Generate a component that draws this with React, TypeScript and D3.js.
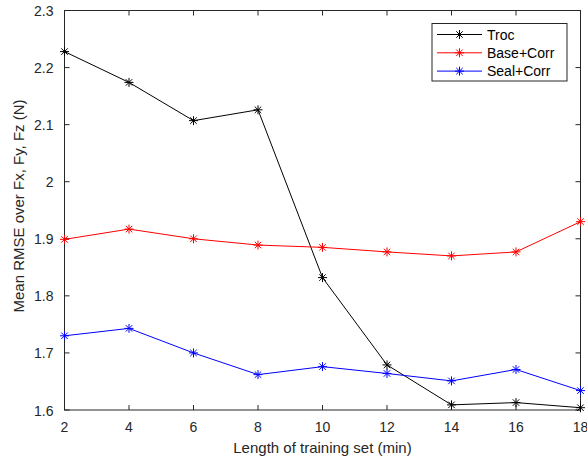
import React, { useRef, useEffect } from "react";
import * as d3 from "d3";

const lengths = [2, 4, 6, 8, 10, 12, 14, 16, 18];
const troc = [2.228, 2.174, 2.107, 2.126, 1.832, 1.679, 1.609, 1.613, 1.604];
const baseCorr = [1.899, 1.917, 1.900, 1.889, 1.885, 1.877, 1.870, 1.877, 1.930];
const sealCorr = [1.730, 1.743, 1.700, 1.662, 1.676, 1.664, 1.651, 1.671, 1.634];
const seriesNames = ["Troc", "Base+Corr", "Seal+Corr"];
const seriesColors = ["#000000", "#ff0000", "#0000ff"];
const yTicks = [1.6, 1.7, 1.8, 1.9, 2, 2.1, 2.2, 2.3];

function starPath(r: number) {
  const d = r * 0.72;
  return `M${-r},0L${r},0M0,${-r}L0,${r}M${-d},${-d}L${d},${d}M${-d},${d}L${d},${-d}`;
}

function App() {
  const svgRef = useRef<SVGSVGElement>(null);

  useEffect(() => {
    const width = 587;
    const height = 462;
    const margin = { top: 10.5, right: 6.5, bottom: 52, left: 64.5 };
    const svg = d3.select(svgRef.current);
    svg.selectAll("*").remove();
    svg.attr("width", width).attr("height", height);

    const x = d3.scaleLinear().domain([2, 18]).range([margin.left, width - margin.right]);
    const y = d3.scaleLinear().domain([1.6, 2.3]).range([height - margin.bottom, margin.top]);
    const axisColor = "#262626";
    const font = "Liberation Sans, Arial, sans-serif";

    svg.append("rect").attr("width", width).attr("height", height).attr("fill", "#fff");

    const [x0, x1] = x.range();
    const [y0, y1] = y.range();

    // box with inward ticks on all four sides
    const g = svg.append("g").attr("stroke", axisColor).attr("stroke-width", 1).attr("fill", "none");
    g.append("rect").attr("x", x0).attr("y", y1).attr("width", x1 - x0).attr("height", y0 - y1);
    lengths.forEach((t) => {
      g.append("line").attr("x1", x(t)).attr("x2", x(t)).attr("y1", y0).attr("y2", y0 - 5);
      g.append("line").attr("x1", x(t)).attr("x2", x(t)).attr("y1", y1).attr("y2", y1 + 5);
    });
    yTicks.forEach((t) => {
      g.append("line").attr("x1", x0).attr("x2", x0 + 5).attr("y1", y(t)).attr("y2", y(t));
      g.append("line").attr("x1", x1).attr("x2", x1 - 5).attr("y1", y(t)).attr("y2", y(t));
    });

    svg.append("g").selectAll("text").data(lengths).join("text")
      .attr("x", (d) => x(d)).attr("y", y0 + 22)
      .attr("text-anchor", "middle").attr("font-family", font).attr("font-size", 14)
      .attr("fill", axisColor).text((d) => String(d));

    svg.append("g").selectAll("text").data(yTicks).join("text")
      .attr("x", x0 - 11).attr("y", (d) => y(d) + 5.5)
      .attr("text-anchor", "end").attr("font-family", font).attr("font-size", 14)
      .attr("fill", axisColor).text((d) => d3.format("~g")(d));

    svg.append("text").attr("x", (x0 + x1) / 2).attr("y", 453)
      .attr("text-anchor", "middle").attr("font-family", font).attr("font-size", 15)
      .attr("fill", axisColor).text("Length of training set (min)");

    svg.append("text").attr("transform", `translate(24,206) rotate(-90)`)
      .attr("text-anchor", "middle").attr("font-family", font).attr("font-size", 15)
      .attr("fill", axisColor).text("Mean RMSE over Fx, Fy, Fz (N)");

    const line = d3.line<number>().x((_, i) => x(lengths[i])).y((d) => y(d));
    const star = starPath(4.5);
    [troc, baseCorr, sealCorr].forEach((vals, k) => {
      svg.append("path").datum(vals).attr("d", line).attr("fill", "none")
        .attr("stroke", seriesColors[k]).attr("stroke-width", 1);
      svg.append("g").selectAll("path").data(vals).join("path")
        .attr("transform", (d, i) => `translate(${x(lengths[i])},${y(d)})`)
        .attr("d", star).attr("stroke", seriesColors[k]).attr("stroke-width", 1).attr("fill", "none");
    });

    // legend
    const lg = svg.append("g");
    lg.append("rect").attr("x", 432).attr("y", 23.5).attr("width", 135).attr("height", 57.5)
      .attr("fill", "#fff").attr("stroke", axisColor).attr("stroke-width", 1);
    seriesNames.forEach((name, k) => {
      const ly = 34.5 + k * 18.3;
      lg.append("line").attr("x1", 437).attr("x2", 482).attr("y1", ly).attr("y2", ly)
        .attr("stroke", seriesColors[k]).attr("stroke-width", 1);
      lg.append("path").attr("transform", `translate(459.5,${ly})`).attr("d", star)
        .attr("stroke", seriesColors[k]).attr("fill", "none");
      lg.append("text").attr("x", 487).attr("y", ly + 5).attr("font-family", font)
        .attr("font-size", 14).attr("fill", "#000").text(name);
    });
  }, []);

  return <svg ref={svgRef} style={{ position: "absolute", left: 0, top: 0 }}></svg>;
}

export default App;
